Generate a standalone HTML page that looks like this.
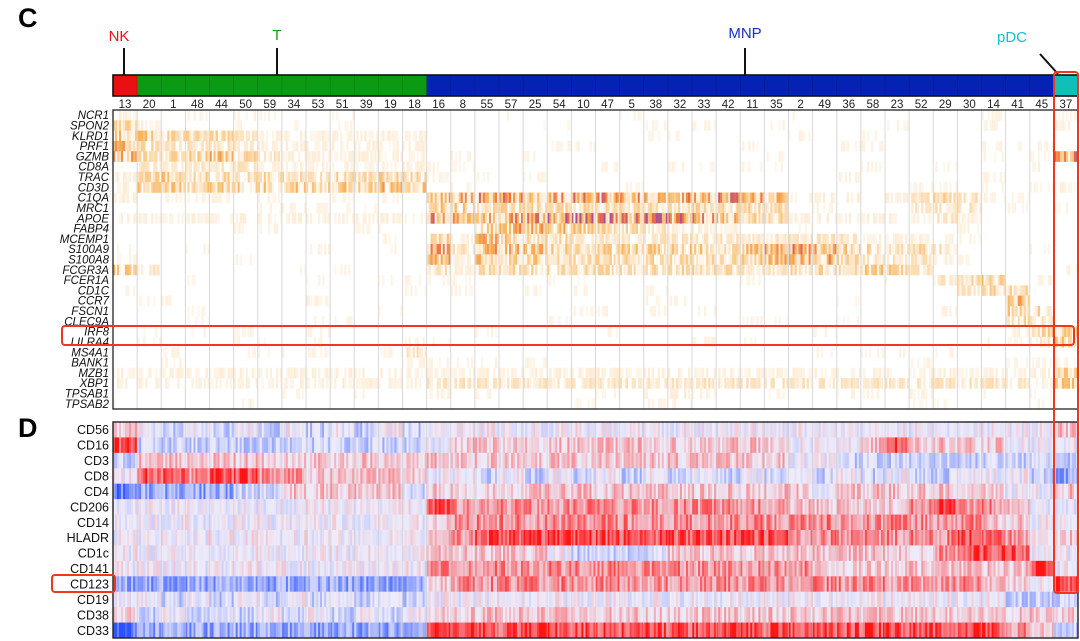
<!DOCTYPE html>
<html><head><meta charset="utf-8">
<style>
html,body{margin:0;padding:0;background:#fff;}
svg{display:block;font-family:"Liberation Sans",Arial,sans-serif;}
</style></head>
<body>
<svg id="fig" width="1080" height="641" viewBox="0 0 1080 641">
  <text x="18" y="27" font-size="27" font-weight="bold">C</text>
  <text x="18" y="437" font-size="27" font-weight="bold">D</text>
  <text x="119" y="41" font-size="15" fill="#e8141c" text-anchor="middle">NK</text>
  <text x="277" y="40" font-size="15" fill="#11a020" text-anchor="middle">T</text>
  <text x="745" y="38" font-size="15" fill="#1a2ecc" text-anchor="middle">MNP</text>
  <text x="1012" y="42" font-size="15" fill="#14c0c8" text-anchor="middle">pDC</text>
  <g stroke="#111" stroke-width="2" fill="none">
    <line x1="124" y1="48" x2="124" y2="75"/>
    <line x1="277" y1="48" x2="277" y2="75"/>
    <line x1="745" y1="48" x2="745" y2="75"/>
    <line x1="1040" y1="54" x2="1058" y2="74"/>
  </g>
  <g id="bar"></g>
  <g id="nums"></g>
  <g id="gh"></g>
  <g id="ph"></g>
  <g id="glab"></g>
  <g id="plab"></g>
  <g fill="none" stroke="#f2361c" stroke-width="2">
    <rect x="62" y="326" width="1012" height="19" rx="3"/>
    <rect x="1054" y="72" width="24" height="521" rx="3"/>
    <rect x="52" y="575" width="63" height="17" rx="3"/>
  </g>
</svg>
<script>
const clusters=[13,20,1,48,44,50,59,34,53,51,39,19,18,16,8,55,57,25,54,10,47,5,38,32,33,42,11,35,2,49,36,58,23,52,29,30,14,41,45,37];
const groups=["NK","T","T","T","T","T","T","T","T","T","T","T","T","M","M","M","M","M","M","M","M","M","M","M","M","M","M","M","M","M","M","M","M","M","M","M","M","M","M","P"];
const genes=["NCR1","SPON2","KLRD1","PRF1","GZMB","CD8A","TRAC","CD3D","C1QA","MRC1","APOE","FABP4","MCEMP1","S100A9","S100A8","FCGR3A","FCER1A","CD1C","CCR7","FSCN1","CLEC9A","IRF8","LILRA4","MS4A1","BANK1","MZB1","XBP1","TPSAB1","TPSAB2"];
const Z26="00000000000000000000000000";
const geneLevels=[
"1000000000000"+Z26+"0",
"3100000000000"+Z26+"1",
"5433321111111"+Z26+"0",
"5322221111111"+Z26+"0",
"6434542111111"+Z26+"8",
"0222221111111"+Z26+"0",
"1343333333343"+Z26+"0",
"1444444444454"+Z26+"1",
"1000000000000"+"67777777777776511101232000"+"0",
"0000000000000"+"44333333333333300000222000"+"0",
"1111111111111"+"76688999998753311111121000"+"0",
"0000000000000"+"00566543321110000000000000"+"0",
"0000000000000"+"41553322222222222211100000"+"0",
"0000000000000"+"62655444444445677433320000"+"0",
"0000000000000"+"61544333333334576322210000"+"0",
"4200000000000"+"21333333333332233344200000"+"0",
"0000000000000"+"00000000000000000000023400"+"0",
"0000000000000"+"00000000000000000000002330"+"0",
"0000000010000"+"00000000000000000000000050"+"0",
"0000000000000"+"00000000000000000000000053"+"0",
"0000000000000"+"00000000000000000000000032"+"0",
"0000000000000"+"00000000000000000000000014"+"4",
"0000000000000"+"00000000000000000000000002"+"4",
"0000000000002"+Z26+"0",
"0000000000001"+Z26+"0",
"1111111111111"+"11111111111111111111111111"+"4",
"1111111111111"+"22222222222222222222222221"+"4",
"0000000000000"+"10000000001000000000100000"+"0",
"0000000000000"+Z26+"0"];
const proteins=["CD56","CD16","CD3","CD8","CD4","CD206","CD14","HLADR","CD1c","CD141","CD123","CD19","CD38","CD33"];
const proteinLevels=[
"4"+"323232323232"+"33333333333333333333333333"+"4",
"6"+"222222222222"+"34444444444444433346444433"+"3",
"2"+"444444444444"+"44444444444444433222222222"+"2",
"3"+"665665544444"+"33232323232323232323223332"+"1",
"0"+"111122444442"+"44444444444444443444444433"+"4",
"3"+"333333333333"+"65555555555555544444565543"+"3",
"3"+"333333333333"+"45555555555555555555555443"+"3",
"3"+"333333333333"+"45666666666666655555556653"+"4",
"3"+"333333333333"+"44444322224444444444456663"+"3",
"3"+"333333333333"+"55555555555555554444444446"+"3",
"1"+"111111111111"+"45555555555555555555555443"+"6",
"3"+"323232323232"+"33333333333333333333333322"+"2",
"4"+"232323232323"+"44444444444444444444444444"+"4",
"0"+"111111111111"+"66666666666666666666666654"+"2"];

const X0=113,X1=1078,NC=clusters.length,CW=(X1-X0)/NC;
const GY0=110,GY1=409,PY0=422,PY1=638;
const NS=12;
const NS_="http://www.w3.org/2000/svg";
function el(tag,attrs,parent){const e=document.createElementNS(NS_,tag);for(const k in attrs)e.setAttribute(k,attrs[k]);parent.appendChild(e);return e;}
function hash(a,b,c){let h=(a*374761393+b*668265263+c*2147483647)|0;h=(h^(h>>>13))*1274126177|0;h=h^(h>>>16);return ((h>>>0)%10000)/10000;}
function xs(ci){return X0+ci*CW;}
function mix(c1,c2,t){return c1.map((v,i)=>Math.round(v+(c2[i]-v)*t));}
function rgb(c){return "rgb("+c.join(",")+")";}
const W=[255,255,255],OR=[248,180,90],RO=[236,110,70],PU=[170,80,150];
function geneColor(t){if(t<0.5)return rgb(mix(W,OR,t/0.5));if(t<0.78)return rgb(mix(OR,RO,(t-0.5)/0.28));return rgb(mix(RO,PU,Math.min(1,(t-0.78)/0.22)));}
const BL=[40,80,255],RD=[255,20,20],NE=[238,236,250];
function protColor(z){const a=Math.pow(Math.min(1,Math.abs(z)),1.4);return rgb(mix(NE,z>=0?RD:BL,a));}

// group bar
const bar=document.getElementById("bar");
const gcol={NK:"#e81010",T:"#0c9a12",M:"#0422b4",P:"#10c0b8"};
clusters.forEach((c,i)=>{const r=el("rect",{x:xs(i),y:75,width:CW+0.5,height:21,fill:gcol[groups[i]],stroke:"rgba(0,0,0,0.2)","stroke-width":0.6},bar);

});
el("rect",{x:X0,y:75,width:X1-X0,height:21,fill:"none",stroke:"#111","stroke-width":1.6},bar);
const nums=document.getElementById("nums");
clusters.forEach((c,i)=>{const t=el("text",{x:xs(i)+CW/2,y:108,"font-size":11.5,"text-anchor":"middle",fill:"#222"},nums);t.textContent=c;

});

// gene heatmap
const gh=document.getElementById("gh");
const RH=(GY1-GY0)/genes.length;
el("rect",{x:X0,y:GY0,width:X1-X0,height:GY1-GY0,fill:"#fff"},gh);
genes.forEach((g,r)=>{
  const lv=geneLevels[r];
  for(let c=0;c<NC;c++){
    const v=+lv[c];if(v===0&&hash(r,c,99)>0.25)continue;
    for(let s=0;s<NS;s++){
      let h=hash(r,c,s),h2=hash(c,s,r+7);
      let t=(v===0?0.1*h:v/9*(0.3+0.85*h));
      if(h2<0.3)t*=0.2;
      if(t<0.05)continue;
      el("rect",{x:(xs(c)+s*CW/NS).toFixed(2),y:(GY0+r*RH).toFixed(2),width:(CW/NS+0.3).toFixed(2),height:(RH+0.3).toFixed(2),fill:geneColor(Math.min(1,t))},gh);
    }
  }
});
for(let c=1;c<NC;c++){el("line",{x1:xs(c),x2:xs(c),y1:GY0,y2:GY1,stroke:"#d8d8d8","stroke-width":1},gh);}
el("rect",{x:X0,y:GY0,width:X1-X0,height:GY1-GY0,fill:"none",stroke:"#333","stroke-width":1.4},gh);

// protein heatmap
const ph=document.getElementById("ph");
const PH=(PY1-PY0)/proteins.length;
proteins.forEach((p,r)=>{
  const lv=proteinLevels[r];
  for(let c=0;c<NC;c++){
    const v=+lv[c];
    for(let s=0;s<NS;s++){
      const h=hash(r+50,c,s);
      const z=(v-3)/3*0.8+(h-0.5)*0.6;
      el("rect",{x:(xs(c)+s*CW/NS).toFixed(2),y:(PY0+r*PH).toFixed(2),width:(CW/NS+0.3).toFixed(2),height:(PH+0.3).toFixed(2),fill:protColor(Math.max(-1,Math.min(1,z)))},ph);
    }
  }
});
for(let c=1;c<NC;c++){el("line",{x1:xs(c),x2:xs(c),y1:PY0,y2:PY1,stroke:"rgba(200,200,200,0.5)","stroke-width":1},ph);}
el("rect",{x:X0,y:PY0,width:X1-X0,height:PY1-PY0,fill:"none",stroke:"#222","stroke-width":1.4},ph);

// labels
const glab=document.getElementById("glab");
genes.forEach((g,r)=>{const t=el("text",{x:109,y:GY0+r*RH+RH/2+4,"font-size":11.5,"font-style":"italic","text-anchor":"end",fill:"#111"},glab);t.textContent=g;

});
const plab=document.getElementById("plab");
proteins.forEach((p,r)=>{const t=el("text",{x:109,y:PY0+r*PH+PH/2+4.5,"font-size":12.5,"text-anchor":"end",fill:"#111"},plab);t.textContent=p;

});
</script>
</body></html>
